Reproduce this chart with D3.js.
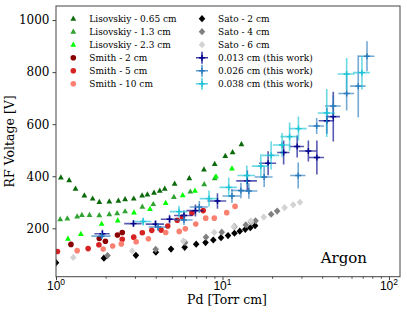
<!DOCTYPE html>
<html>
<head>
<meta charset="utf-8">
<script src="https://cdn.jsdelivr.net/npm/d3@7"></script>
<style>
  body { margin: 0; background: #fff; }
  svg { font-family: "DejaVu Serif", serif; }
</style>
</head>
<body>
<div id="chart"></div>
<script>
// Lisovskiy (triangles)
const lis065X = [1.07, 1.20, 1.31, 1.48, 1.66, 1.82, 2.09, 2.37, 2.60, 2.93, 3.29, 3.54, 3.88, 4.20, 4.50, 5.16, 6.32, 7.74, 8.98, 10.4, 11.5, 13.0];
const lis065Y = [395, 385, 352, 326, 314, 301, 303, 306, 312, 314, 326, 330, 337, 344, 352, 371, 392, 426, 447, 478, 492, 523];
const lis13X = [1.06, 1.17, 1.34, 1.43, 1.59, 1.82, 2.09, 2.33, 2.60, 3.30, 3.84, 5.11, 6.41, 7.77, 8.98];
const lis13Y = [235, 238, 245, 251, 251, 250, 254, 258, 265, 283, 293, 320, 341, 369, 392];
const lis23X = [1.18, 1.41, 1.88, 2.35, 2.94, 3.67, 4.56, 5.77, 6.84, 9.14, 11.4];
const lis23Y = [160, 178, 217, 230, 261, 274, 297, 327, 344, 399, 430];

// Smith (circles)
const smith2X = [1.23, 1.82, 1.98, 2.34, 2.50];
const smith2Y = [138, 161, 150, 174, 184];
const smith5X = [1.02, 1.56, 1.81, 2.50, 2.93, 3.30, 3.76, 4.28, 4.69, 5.35, 5.75, 6.55, 7.66];
const smith5Y = [111, 122, 137, 158, 166, 183, 192, 193, 209, 231, 242, 259, 268];
const smith10X = [1.34, 1.92, 2.19, 2.47, 3.03, 3.59, 4.56, 5.50, 5.98, 6.91, 7.93, 8.93, 10.6, 11.9];
const smith10Y = [114, 120, 132, 140, 148, 160, 184, 188, 198, 216, 239, 239, 260, 284];

// Sato (diamonds)
const sato2X = [1.0, 1.94, 3.02, 3.98, 4.91, 5.93, 6.95, 7.91, 8.81, 9.80, 10.8, 11.8, 12.7, 13.7, 14.7, 15.7];
const sato2Y = [68, 85, 96, 108, 120, 127, 139, 145, 155, 164, 172, 181, 189, 196, 202, 210];
const sato4X = [2.04, 3.97, 5.96, 7.96, 9.90, 11.8, 13.8, 14.8, 15.8, 19.6, 21.3];
const sato4Y = [95, 119, 145, 166, 185, 206, 213, 225, 229, 254, 266];
const sato6X = [1.27, 2.87, 5.82, 8.92, 11.7, 14.8, 17.7, 23.6, 26.6, 29.2];
const sato6Y = [88, 113, 151, 184, 206, 228, 243, 279, 290, 300];

// this work (error bars)
const w013X = [1.90, 2.92, 3.96, 4.81, 5.87, 6.88, 9.33, 14.1, 18.8, 23.3, 28.1, 32.8, 36.9, 42.3, 46.3];
const w013Y = [179, 218, 216, 235, 249, 268, 305, 382, 450, 491, 514, 497, 472, 613, 629];
const w013Xerr = [0.2, 0.35, 0.5, 0.55, 0.75, 0.8, 1.2, 2.0, 2.2, 2.0, 2.8, 4.0, 3.8, 4.5, 4.5];
const w013Yerr = [15, 13, 15, 17, 19, 23, 30, 40, 46, 46, 42, 40, 65, 50, 96];
const w026X = [1.88, 4.10, 5.87, 7.26, 11.4, 12.9, 14.4, 17.8, 28.5, 36.8, 46.3, 55.7, 65.4, 73.8];
const w026Y = [170, 205, 232, 282, 324, 345, 343, 397, 403, 593, 670, 718, 746, 861];
const w026Xerr = [0.25, 0.5, 0.75, 0.9, 1.4, 1.6, 1.8, 2.2, 3.0, 4.0, 5.0, 6.0, 7.0, 8.0];
const w026Yerr = [10, 15, 19, 23, 27, 30, 30, 38, 50, 31, 40, 65, 119, 58];
const w038X = [3.34, 5.48, 8.30, 10.9, 14.0, 17.0, 19.6, 22.8, 25.3, 28.6, 42.3, 55.7, 68.8];
const w038Y = [226, 264, 314, 357, 403, 439, 480, 520, 552, 583, 643, 793, 798];
const w038Xerr = [0.4, 0.65, 1.0, 1.3, 1.7, 2.0, 2.3, 2.7, 3.0, 3.4, 5.0, 6.5, 8.0];
const w038Yerr = [15, 23, 31, 38, 38, 46, 54, 46, 54, 46, 92, 61, 65];

const yTicks = [200, 400, 600, 800, 1000];
const xTicks = [1, 10, 100];

const W = 407, H = 313;
const margin = { top: 6, right: 7, bottom: 36.3, left: 56 };
const width = W - margin.left - margin.right;
const height = H - margin.top - margin.bottom;

const svg = d3.select('#chart').append('svg')
  .attr('width', W).attr('height', H);

const g = svg.append('g').attr('transform', `translate(${margin.left},${margin.top})`);

const x = d3.scaleLog().domain([1, 116.5]).range([0, width]);
const y = d3.scaleLinear().domain([14, 1054]).range([height, 0]);

g.append('clipPath').attr('id', 'clip')
  .append('rect').attr('width', width).attr('height', height);

const plot = g.append('g').attr('clip-path', 'url(#clip)');

const zip = (xs, ys) => xs.map((v, i) => ({ x: v, y: ys[i] }));

const triangle = 'M0,-3.2L2.9,2L-2.9,2Z';
const diamond = 'M0,-3.6L3.3,0L0,3.6L-3.3,0Z';

const scatter = [
  { label: 'Lisovskiy - 0.65 cm', xs: lis065X, ys: lis065Y, color: '#0b6b0b', shape: 'tri' },
  { label: 'Lisovskiy - 1.3 cm', xs: lis13X, ys: lis13Y, color: '#2fa32f', shape: 'tri' },
  { label: 'Lisovskiy - 2.3 cm', xs: lis23X, ys: lis23Y, color: '#00ff00', shape: 'tri' },
  { label: 'Smith - 2 cm', xs: smith2X, ys: smith2Y, color: '#8b0000', shape: 'circ' },
  { label: 'Smith - 5 cm', xs: smith5X, ys: smith5Y, color: '#d62222', shape: 'circ' },
  { label: 'Smith - 10 cm', xs: smith10X, ys: smith10Y, color: '#fa8072', shape: 'circ' },
  { label: 'Sato - 2 cm', xs: sato2X, ys: sato2Y, color: '#000000', shape: 'dia' },
  { label: 'Sato - 4 cm', xs: sato4X, ys: sato4Y, color: '#808080', shape: 'dia' },
  { label: 'Sato - 6 cm', xs: sato6X, ys: sato6Y, color: '#d3d3d3', shape: 'dia' },
];

const work = [
  { label: '0.013 cm (this work)', xs: w013X, ys: w013Y, xe: w013Xerr, ye: w013Yerr, color: '#00008b' },
  { label: '0.026 cm (this work)', xs: w026X, ys: w026Y, xe: w026Xerr, ye: w026Yerr, color: '#2a7bbd' },
  { label: '0.038 cm (this work)', xs: w038X, ys: w038Y, xe: w038Xerr, ye: w038Yerr, color: '#1cc3d6' },
];

function drawMarker(sel, shape, color) {
  if (shape === 'circ') {
    sel.append('circle').attr('r', 2.8).attr('fill', color);
  } else {
    sel.append('path').attr('d', shape === 'tri' ? triangle : diamond).attr('fill', color);
  }
}

scatter.forEach(s => {
  plot.append('g').selectAll('g')
    .data(zip(s.xs, s.ys))
    .join('g')
    .attr('transform', d => `translate(${x(d.x)},${y(d.y)})`)
    .each(function () { drawMarker(d3.select(this), s.shape, s.color); });
});

work.forEach(s => {
  const pts = s.xs.map((v, i) => ({ x: v, y: s.ys[i], xe: s.xe[i], ye: s.ye[i] }));
  const grp = plot.append('g');
  const bars = grp.selectAll('g').data(pts).join('g');
  bars.append('line')
    .attr('x1', d => x(d.x - d.xe)).attr('x2', d => x(d.x + d.xe))
    .attr('y1', d => y(d.y)).attr('y2', d => y(d.y))
    .attr('stroke', s.color).attr('stroke-width', 1.6).attr('stroke-opacity', 0.65);
  bars.append('line')
    .attr('x1', d => x(d.x)).attr('x2', d => x(d.x))
    .attr('y1', d => y(d.y - d.ye)).attr('y2', d => y(d.y + d.ye))
    .attr('stroke', s.color).attr('stroke-width', 1.6).attr('stroke-opacity', 0.65);
  bars.append('path')
    .attr('d', d => `M${x(d.x) - 3},${y(d.y)}h6M${x(d.x)},${y(d.y) - 3}v6`)
    .attr('stroke', s.color).attr('stroke-width', 1.4);
});

// Axes
const axisColor = '#444';
const xAxis = g.append('g').attr('transform', `translate(0,${height})`)
  .call(d3.axisBottom(x).tickValues(xTicks).tickSize(3.5).tickFormat(''));
const minor = [];
[1, 10, 100].forEach(dec => { for (let k = 2; k <= 9; k++) if (dec * k <= 116.5) minor.push(dec * k); });
xAxis.selectAll('.minor').data(minor).join('line')
  .attr('class', 'minor')
  .attr('x1', d => x(d)).attr('x2', d => x(d))
  .attr('y1', 0).attr('y2', 2)
  .attr('stroke', axisColor);
xAxis.selectAll('.xlab').data(xTicks).join('text')
  .attr('class', 'xlab')
  .attr('x', d => x(d)).attr('y', 13)
  .attr('text-anchor', 'middle')
  .style('font-size', '12px').attr('fill', '#000')
  .each(function (d) {
    const t = d3.select(this);
    t.append('tspan').text('10');
    t.append('tspan').attr('dy', -5).style('font-size', '8.5px').text(Math.round(Math.log10(d)));
  });

const yAxis = g.append('g')
  .call(d3.axisLeft(y).tickValues(yTicks).tickSize(3.5).tickPadding(3).tickFormat(d3.format('d')));
yAxis.selectAll('text').style('font-size', '12px').style('font-family', '"DejaVu Serif", serif').attr('fill', '#000');

[xAxis, yAxis].forEach(a => {
  a.select('.domain').remove();
  a.selectAll('.tick line').attr('stroke', axisColor);
});

g.append('rect')
  .attr('width', width).attr('height', height)
  .attr('fill', 'none').attr('stroke', axisColor).attr('stroke-width', 1);

svg.append('text')
  .attr('transform', `translate(10,${margin.top + height / 2}) rotate(-90)`)
  .attr('text-anchor', 'middle').attr('dy', '0.35em')
  .style('font-size', '12.5px').text('RF Voltage [V]');

svg.append('text')
  .attr('x', margin.left + width / 2 - 1).attr('y', 304)
  .attr('text-anchor', 'middle')
  .style('font-size', '12.5px').text('Pd [Torr cm]');

g.append('text')
  .attr('x', 264.7).attr('y', 257.3)
  .style('font-size', '15px').text('Argon');

// Legend
const legend = g.append('g');
const legendItems = scatter.map(s => ({ ...s, kind: 'pt' }))
  .concat(work.map(s => ({ ...s, kind: 'err' })));
legendItems.forEach((s, i) => {
  const col = Math.floor(i / 6), row = i % 6;
  const lg = legend.append('g')
    .attr('transform', `translate(${col === 0 ? 17.3 : 146}, ${12.7 + row * 13})`);
  if (s.kind === 'pt') {
    drawMarker(lg, s.shape, s.color);
  } else {
    lg.append('path').attr('d', 'M-6,0h12M0,-6v12')
      .attr('stroke', s.color).attr('stroke-width', 1.6).attr('stroke-opacity', 0.75);
    lg.append('path').attr('d', 'M-3,0h6M0,-3v6')
      .attr('stroke', s.color).attr('stroke-width', 1.4);
  }
  lg.append('text').attr('x', 16).attr('dy', '0.35em')
    .style('font-size', '9px').text(s.label);
});
</script>
</body>
</html>
